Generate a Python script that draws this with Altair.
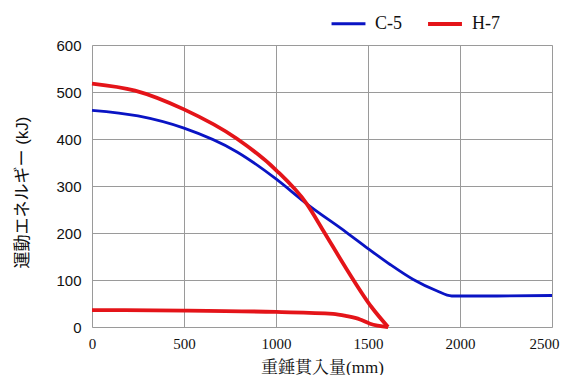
import altair as alt
import pandas as pd

# C-5 series
c5_x = [0, 250, 500, 786, 1000, 1167, 1384, 1500, 1620, 1746, 1873, 1955, 2200, 2500]
c5_y = [461, 449, 423, 373, 315, 262, 201, 167, 133, 101, 77, 66, 66, 67]

# H-7 series: loading branch then return branch along the bottom
h7a_x = [0, 234, 500, 786, 1000, 1167, 1257, 1384, 1520, 1609]
h7a_y = [518, 503, 463, 401, 334, 262, 205, 123, 42, 0]
h7b_x = [1609, 1511, 1457, 1386, 1310, 1000, 500, 0]
h7b_y = [0, 7, 16, 23, 28, 32, 35, 36]

rows = []
for x, y in zip(c5_x, c5_y):
    rows.append({"x": x, "y": y, "series": "C-5", "part": "C-5"})
for x, y in zip(h7a_x, h7a_y):
    rows.append({"x": x, "y": y, "series": "H-7", "part": "H-7a"})
for x, y in zip(h7b_x, h7b_y):
    rows.append({"x": x, "y": y, "series": "H-7", "part": "H-7b"})
df = pd.DataFrame(rows)

serif = "'Liberation Serif', 'Noto Serif CJK JP', 'Noto Sans CJK JP'"
sans = "'Liberation Sans', 'Noto Sans CJK JP'"
tcol = "#111"

chart = alt.Chart(df).mark_line(interpolate="monotone").encode(
    x=alt.X("x:Q", scale=alt.Scale(domain=[0, 2500], nice=False),
            axis=alt.Axis(values=[0, 500, 1000, 1500, 2000, 2500], format="d",
                          title="重錘貫入量(mm)",
                          labelFont=serif, labelFontSize=15, labelColor=tcol,
                          titleFont=serif, titleFontSize=17, titleFontWeight="normal",
                          titleColor=tcol, titlePadding=8, labelPadding=9,
                          labelOffset=alt.condition("datum.value == 2500", alt.value(-8), alt.value(0)),
                          ticks=False, domain=False, grid=True, gridColor="#9a9a9a",
                          labelFlush=False)),
    y=alt.Y("y:Q", scale=alt.Scale(domain=[0, 600], nice=False),
            axis=alt.Axis(values=[0, 100, 200, 300, 400, 500, 600], format="d",
                          title="運動エネルギー (kJ)",
                          labelFont=sans, labelFontSize=15, labelColor=tcol,
                          titleFont=sans, titleFontSize=17, titleFontWeight="normal",
                          titleColor=tcol, titlePadding=24, labelPadding=11, titleY=147,
                          ticks=False, domain=False, grid=True, gridColor="#9a9a9a",
                          labelFlush=False)),
    color=alt.Color("series:N",
                    scale=alt.Scale(domain=["C-5", "H-7"], range=["#0a14c4", "#e41419"]),
                    legend=alt.Legend(title=None, orient="none", direction="horizontal",
                                      legendX=238, legendY=-40, symbolType="stroke",
                                      symbolSize=1150, symbolStrokeWidth=3,
                                      labelFont=serif, labelFontSize=18, labelColor=tcol,
                                      columnPadding=18, labelOffset=8)),
    strokeWidth=alt.StrokeWidth("series:N", scale=alt.Scale(domain=["C-5", "H-7"], range=[2.8, 3.8]), legend=None),
    detail="part:N",
    order="x:Q",
).properties(
    width=460, height=282,
    autosize=alt.AutoSizeParams(type="none"),
    padding={"left": 84, "top": 37, "right": 8, "bottom": 48},
).configure_view(stroke="black", strokeWidth=2).configure(background="white")

chart.save("out.html", embed_options={"renderer": "svg", "actions": False})
